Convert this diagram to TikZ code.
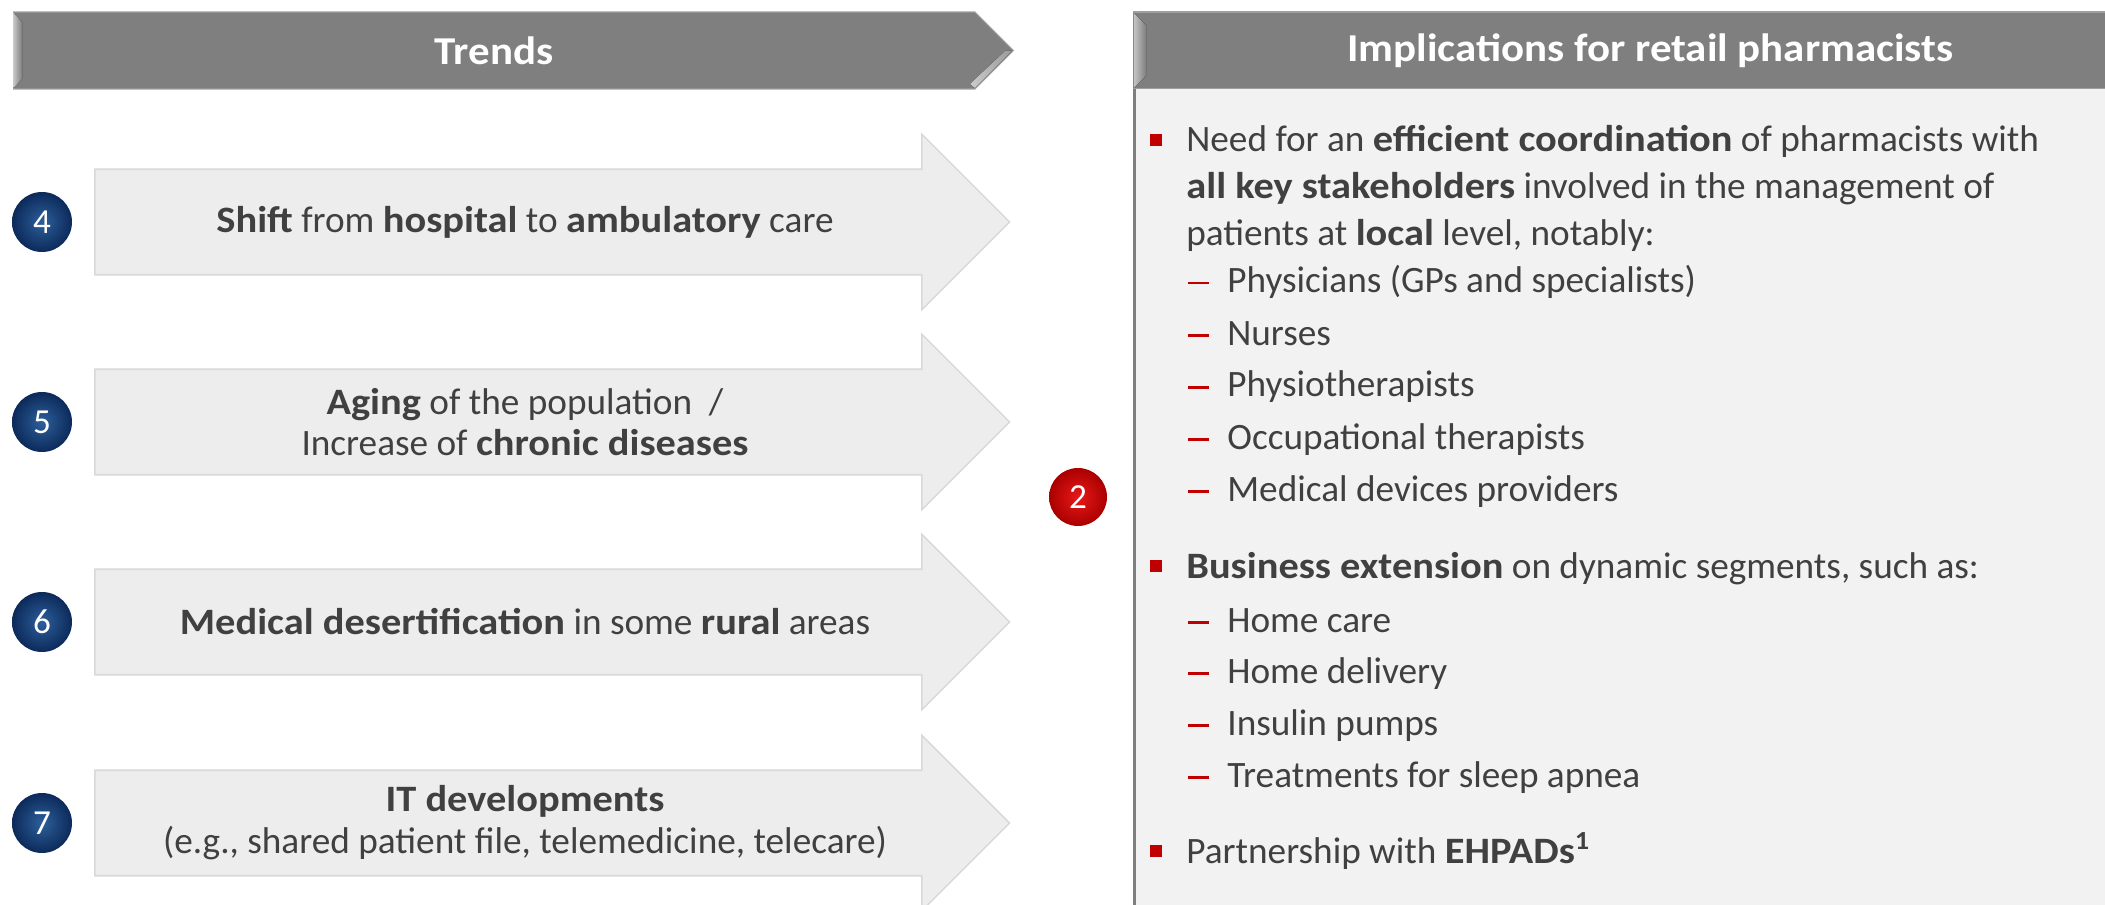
\documentclass[tikz,border=0pt]{standalone}
\usepackage{fontspec}
\setmainfont{Carlito}[BoldFeatures={FakeStretch=1.085}]
\usepackage{xcolor}
\usepackage{tikz}
\usetikzlibrary{shapes.arrows,shapes.symbols}
\definecolor{ink}{RGB}{64,64,64}
\definecolor{headgray}{RGB}{127,127,127}
\definecolor{arrowfill}{RGB}{237,237,237}
\definecolor{arrowline}{RGB}{217,217,217}
\definecolor{panelfill}{RGB}{242,242,242}
\definecolor{panelline}{RGB}{127,127,127}
\definecolor{bulletred}{RGB}{192,0,0}
\definecolor{badgein}{RGB}{45,95,155}
\definecolor{badgeout}{RGB}{12,42,90}
\definecolor{redin}{RGB}{232,25,25}
\definecolor{redout}{RGB}{170,0,0}

\begin{document}
\begin{tikzpicture}[
  x=0.02cm, y=-0.02cm,
  head/.style={fill=headgray, draw=headgray!75!white, line width=0.6pt, text=white,
    font=\bfseries\fontsize{22.5}{26}\selectfont, minimum height=1.54cm, anchor=west},
  bevel/.style={left color=headgray!45!white, right color=headgray},
  trend/.style={single arrow, single arrow head extend=0.7cm, single arrow tip angle=90,
    minimum height=18.3cm, minimum width=3.48cm, inner ysep=1.04cm, inner xsep=0pt,
    fill=arrowfill, draw=arrowline, line width=0.9pt, anchor=tail},
  trendtext/.style={align=center, text=ink, inner sep=0pt,
    font=\fontsize{21.2}{23.8}\selectfont},
  badge/.style={circle, minimum size=1.2cm, inner sep=0pt, shading=radial,
    inner color=badgein, outer color=badgeout, text=white,
    font=\fontsize{20}{24}\selectfont},
  item/.style={anchor=base west, inner sep=0pt, text=ink,
    font=\fontsize{21.2}{26.7}\selectfont},
  subdash/.style={anchor=base west, inner sep=0pt, text=bulletred},
  bulletsq/.style={fill=bulletred, minimum size=0.24cm, inner sep=0pt}
]
\useasboundingbox (0,0) rectangle (2105,905);
\clip (0,0) rectangle (2105,905);

% Headers.
\node[head, signal, signal to=east, minimum width=20cm] (trends) at (13,50.5) {Trends};
\node[head, rectangle, minimum width=20.68cm] (impl) at (1133,50.5) {Implications for retail pharmacists};
\fill[bevel] (13.5,13) -- (22,22) -- (22,79) -- (13.5,88) -- cycle;
\fill[bevel] (1133.5,13) -- (1146,25) -- (1146,76) -- (1133.5,88) -- cycle;
\fill[left color=headgray!40!white, right color=headgray!80!white] (1012,51) -- (975,88) -- (970,84) -- (1005,51) -- cycle;

% Implications panel.
\fill[panelfill] (1133,89) rectangle (2110,910);
\draw[panelline, line width=0.06cm] (1134.5,89) -- (1134.5,910);

% Trends.
\node[trend] (arr4) at (94,222) {};
\node[trend] (arr5) at (94,422) {};
\node[trend] (arr6) at (94,622) {};
\node[trend] (arr7) at (94,823) {};

\node[trendtext] (lab4) at (525,222) {\textbf{Shift} from \textbf{hospital} to \textbf{ambulatory} care};
\node[trendtext] (lab5) at (525,422) {\textbf{Aging} of the population\ \ /\\Increase of \textbf{chronic diseases}};
\node[trendtext] (lab6) at (525,622) {\textbf{Medical desertification} in some \textbf{rural} areas};
\node[trendtext] (lab7) at (525,823) {\textbf{IT developments}\\(e.g., shared patient file, telemedicine, telecare)};

\node[badge] (b4) at (42,222) {4};
\node[badge] (b5) at (42,422) {5};
\node[badge] (b6) at (42,622) {6};
\node[badge] (b7) at (42,823) {7};

\node[badge, minimum size=1.16cm, inner color=redin, outer color=redout] (b2) at (1078,497) {2};

% Coordination with stakeholders.
\node[bulletsq] (sq1) at (1156,140) {};
\node[item] (need1) at (1186,152) {Need for an \textbf{efficient coordination} of pharmacists with};
\node[item] (need2) at (1186,199) {\textbf{all key stakeholders} involved in the management of};
\node[item] (need3) at (1186,246) {patients at \textbf{local} level, notably:};
\node[subdash] (d11) at (1188,293) {\rule[0.17cm]{0.41cm}{0.05cm}};
\node[item] (s11) at (1227,293) {Physicians (GPs and specialists)};
\node[subdash] (d12) at (1188,345) {\rule[0.17cm]{0.41cm}{0.05cm}};
\node[item] (s12) at (1227,345) {Nurses};
\node[subdash] (d13) at (1188,397) {\rule[0.17cm]{0.41cm}{0.05cm}};
\node[item] (s13) at (1227,397) {Physiotherapists};
\node[subdash] (d14) at (1188,449) {\rule[0.17cm]{0.41cm}{0.05cm}};
\node[item] (s14) at (1227,449) {Occupational therapists};
\node[subdash] (d15) at (1188,501) {\rule[0.17cm]{0.41cm}{0.05cm}};
\node[item] (s15) at (1227,501) {Medical devices providers};

% Business extension.
\node[bulletsq] (sq2) at (1156,566) {};
\node[item] (biz) at (1186,578) {\textbf{Business extension} on dynamic segments, such as:};
\node[subdash] (d21) at (1188,632) {\rule[0.17cm]{0.41cm}{0.05cm}};
\node[item] (s21) at (1227,632) {Home care};
\node[subdash] (d22) at (1188,683) {\rule[0.17cm]{0.41cm}{0.05cm}};
\node[item] (s22) at (1227,683) {Home delivery};
\node[subdash] (d23) at (1188,735) {\rule[0.17cm]{0.41cm}{0.05cm}};
\node[item] (s23) at (1227,735) {Insulin pumps};
\node[subdash] (d24) at (1188,787) {\rule[0.17cm]{0.41cm}{0.05cm}};
\node[item] (s24) at (1227,787) {Treatments for sleep apnea};

% Partnership.
\node[bulletsq] (sq3) at (1156,851) {};
\node[item] (ehpad) at (1186,863) {Partnership with \textbf{EHPADs\textsuperscript{1}}};

\end{tikzpicture}
\end{document}
